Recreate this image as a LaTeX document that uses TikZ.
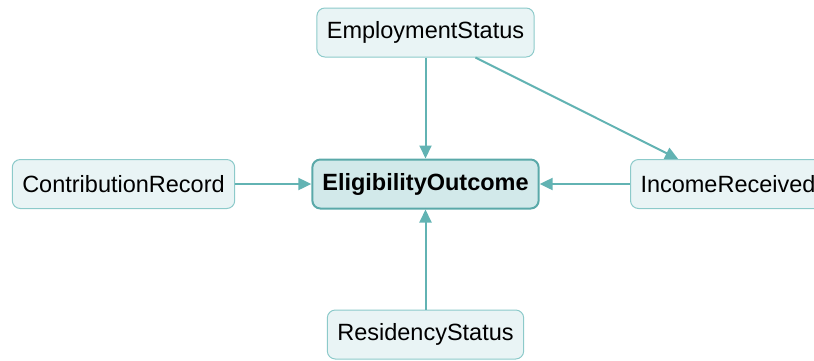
\documentclass[tikz,border=0pt]{standalone}
\usepackage{fontspec}
\setmainfont{Liberation Sans}
\usetikzlibrary{arrows.meta,positioning}
\definecolor{tealline}{HTML}{62B3B3}
\definecolor{tealedge}{HTML}{8CCACA}
\definecolor{tealfill}{HTML}{E9F4F5}
\definecolor{tealmain}{HTML}{D2E9EA}
\definecolor{tealdark}{HTML}{5AA9A9}
\tikzset{%
  factor/.style={rectangle, rounded corners=8pt, draw=tealedge, line width=1pt,
    fill=tealfill, inner xsep=10pt, minimum height=49pt,
    font=\fontsize{23.5}{27}\selectfont},
  outcome/.style={factor, draw=tealdark, line width=2pt, fill=tealmain,
    font=\fontsize{23.5}{27}\selectfont\bfseries},
  link/.style={draw=tealline, line width=2pt, -{Triangle[length=13pt,width=12pt]}}
}
\begin{document}
\begin{tikzpicture}[x=1pt, y=-1pt]
    \useasboundingbox (0,0) rectangle (814,360);

      \node[outcome] (outcome) at (425.5,184) {EligibilityOutcome};
      \node[factor] (employ) at (425.5,32.5) {EmploymentStatus};
      \node[factor] (contrib) at (123.5,184) {ContributionRecord};
      \node[factor, anchor=west] (income) at (630,184) {IncomeReceived};
      \node[factor] (resid) at (425.5,334.5) {ResidencyStatus};

      \draw[link] (employ) -- (outcome);
      \draw[link] (employ) -- (income);
      \draw[link] (contrib) -- (outcome);
      \draw[link] (income) -- (outcome);
      \draw[link] (resid) -- (outcome);

  \end{tikzpicture}
\end{document}
